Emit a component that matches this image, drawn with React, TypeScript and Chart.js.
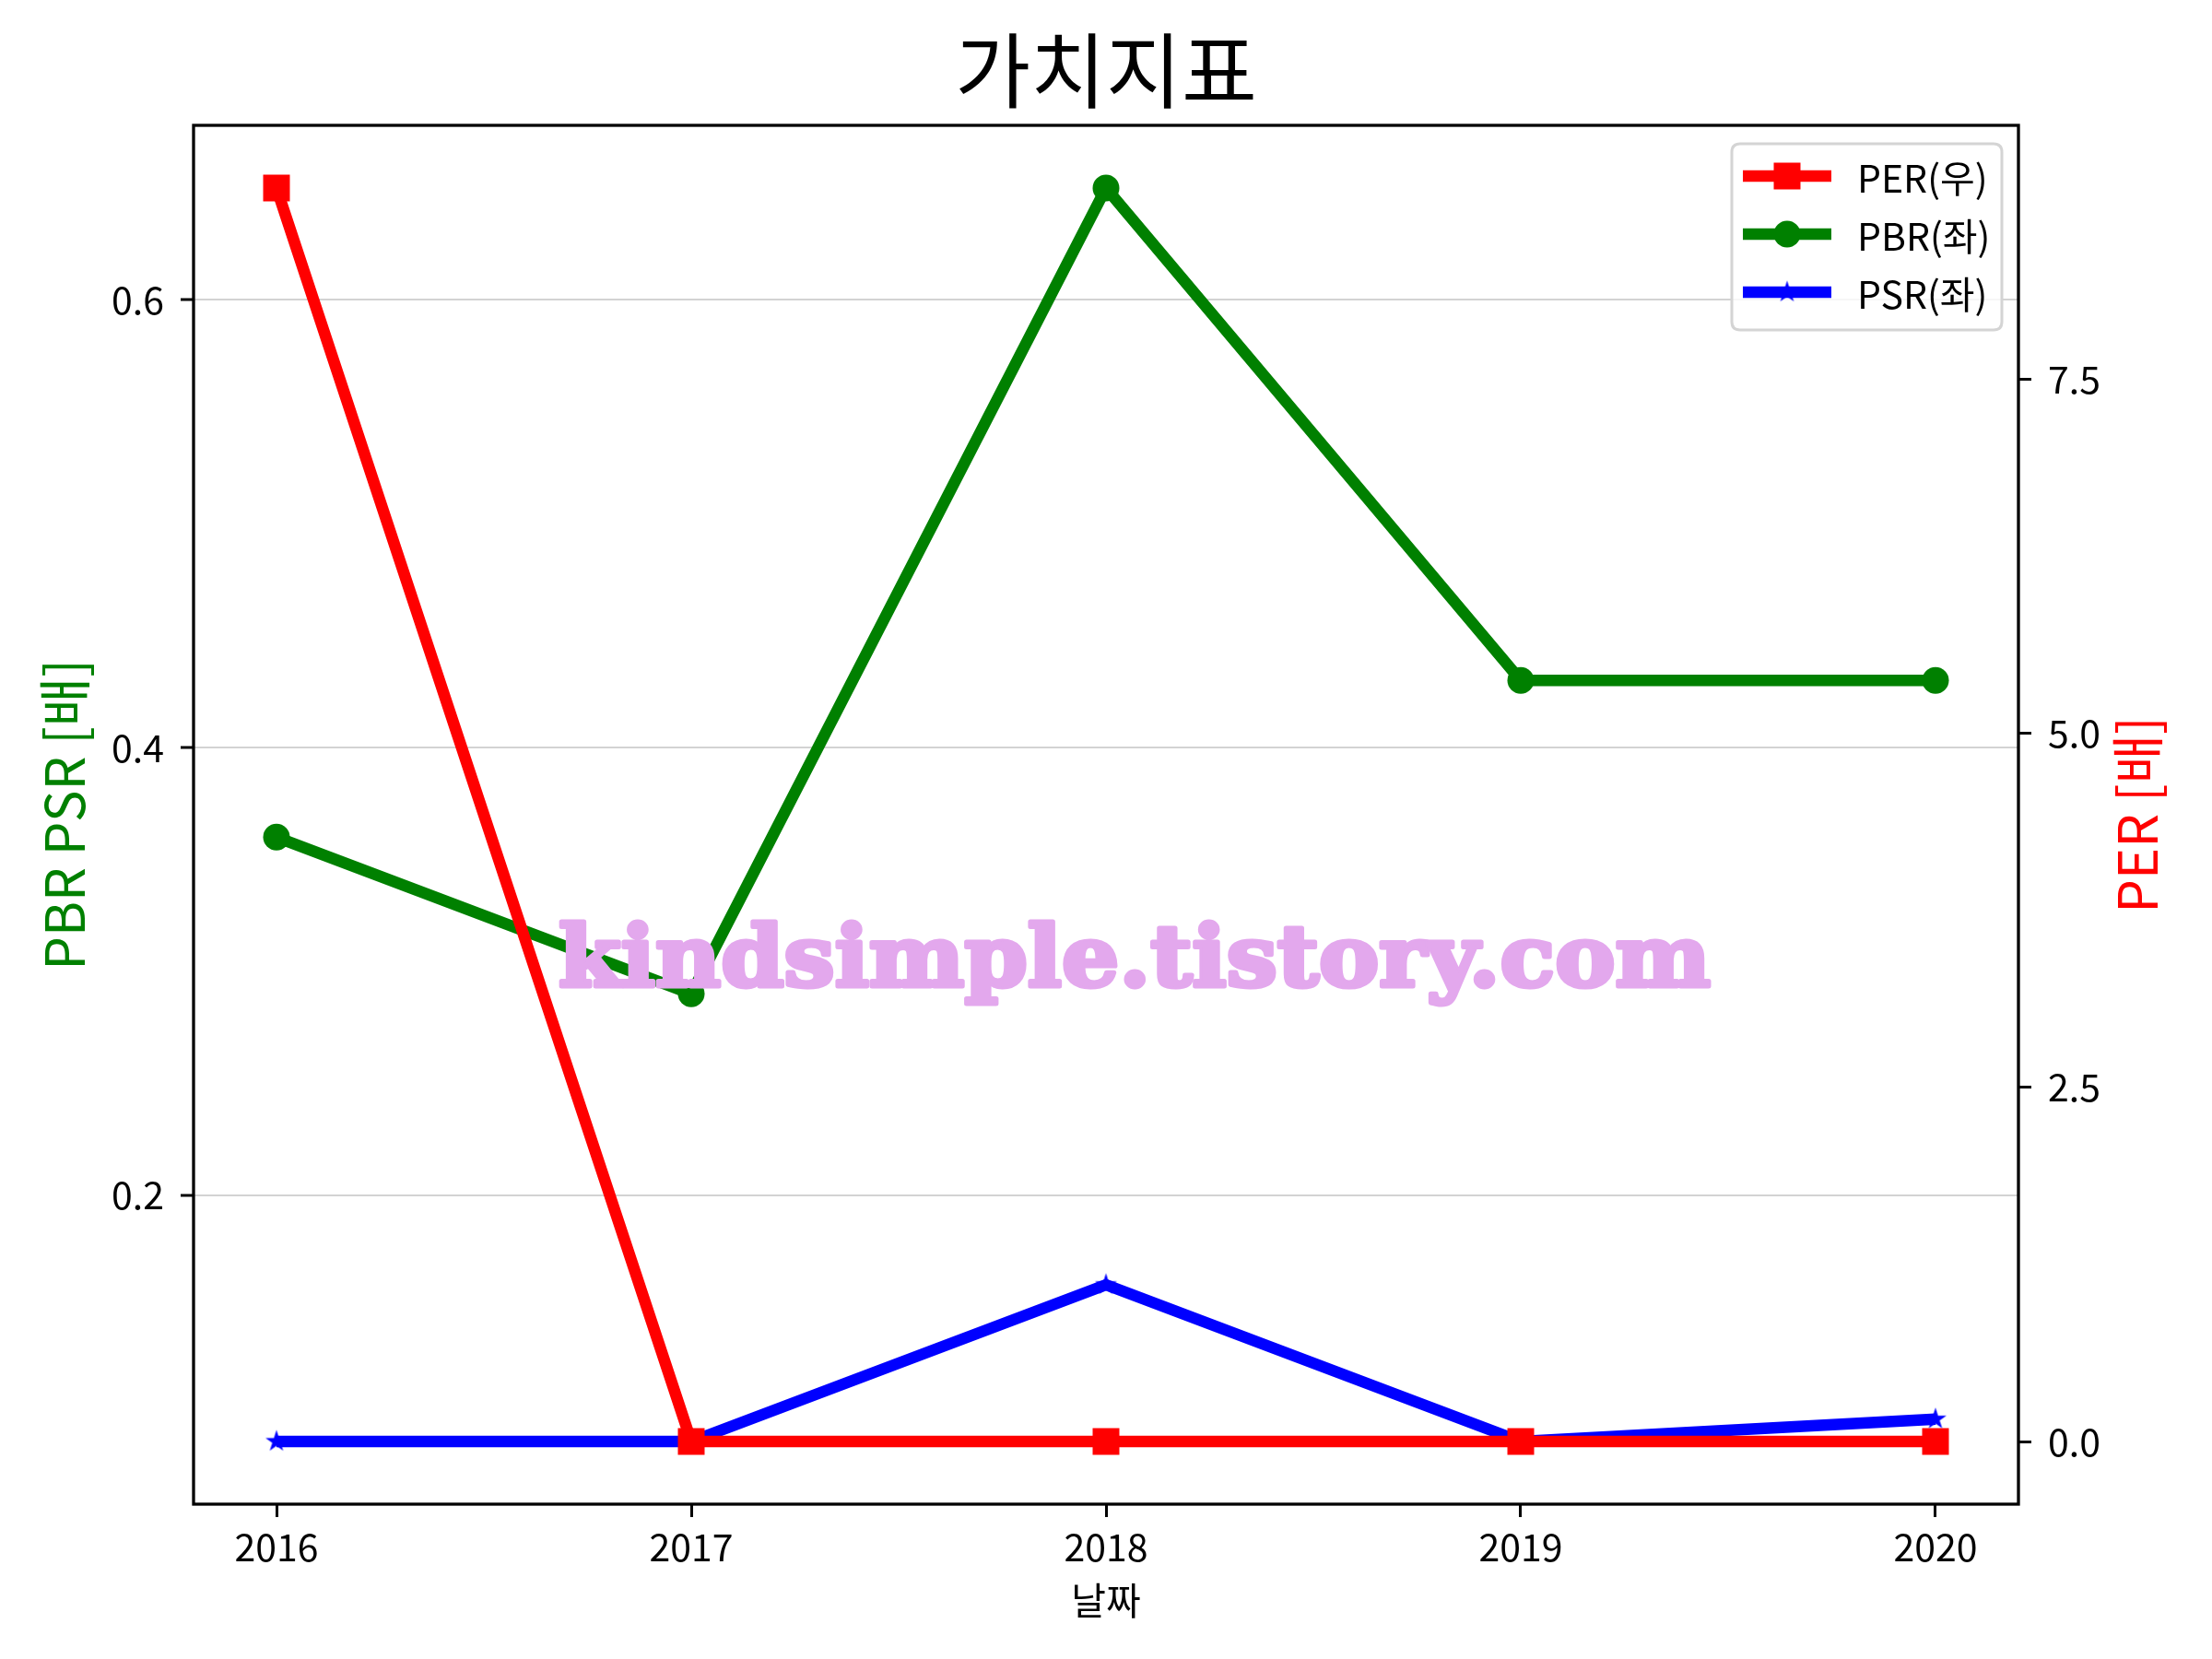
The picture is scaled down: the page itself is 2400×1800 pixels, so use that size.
import React, { useEffect, useRef } from 'react';
import { Chart, registerables } from 'chart.js';

Chart.register(...registerables);

const TITLE = '가치지표';
const X_LABEL = '날짜';
const LEFT_LABEL = 'PBR PSR [배]';
const RIGHT_LABEL = 'PER [배]';
const WATERMARK = 'kindsimple.tistory.com';

const YEARS = [2016, 2017, 2018, 2019, 2020];
const SERIES_LABELS = ['PER(우)', 'PBR(좌)', 'PSR(좌)'];
const PER = [8.85, 0, 0, 0, 0];
const PBR = [0.36, 0.29, 0.65, 0.43, 0.43];
const PSR = [0.09, 0.09, 0.16, 0.09, 0.1];
const LEFT_TICKS = [0.2, 0.4, 0.6];
const RIGHT_TICKS = [0, 2.5, 5, 7.5];

const FONT = "'Noto Sans CJK KR', 'Noto Sans', sans-serif";

function withMargin(values: number[]): [number, number] {
  const lo = Math.min(...values);
  const hi = Math.max(...values);
  const m = (hi - lo) * 0.05;
  return [lo - m, hi + m];
}

function makeStar(color: string, R: number): HTMLCanvasElement {
  const c = document.createElement('canvas');
  const s = Math.ceil(R * 2 + 4);
  c.width = s;
  c.height = s;
  const g = c.getContext('2d')!;
  g.fillStyle = color;
  g.beginPath();
  const cx = s / 2;
  const cy = s / 2;
  for (let i = 0; i < 10; i++) {
    const r = i % 2 === 0 ? R : R * 0.381966;
    const a = -Math.PI / 2 + (i * Math.PI) / 5;
    const px = cx + r * Math.cos(a);
    const py = cy + r * Math.sin(a);
    if (i === 0) g.moveTo(px, py);
    else g.lineTo(px, py);
  }
  g.closePath();
  g.fill();
  return c;
}

export default function App() {
  const ref = useRef<HTMLCanvasElement | null>(null);

  useEffect(() => {
    const canvas = ref.current;
    if (!canvas) return;
    const star = makeStar('#0000ff', 12.5);

    const [xMin, xMax] = withMargin(YEARS);
    const [lMin, lMax] = withMargin([...PBR, ...PSR]);
    const [rMin, rMax] = withMargin(PER);

    const toPts = (arr: number[]) => YEARS.map((y, i) => ({ x: y, y: arr[i] }));

    const overlay = {
      id: 'overlay',
      afterDatasetsDraw(chart: any) {
        const ctx = chart.ctx as CanvasRenderingContext2D;
        const a = chart.chartArea;
        // watermark
        ctx.save();
        ctx.font = `bold 92px 'DejaVu Serif', serif`;
        const w = ctx.measureText(WATERMARK).width;
        const target = 1250;
        ctx.translate(1231, 1070);
        ctx.scale(target / w, 1);
        ctx.fillStyle = 'rgb(227,168,237)';
        ctx.strokeStyle = 'rgb(227,168,237)';
        ctx.lineWidth = 5;
        ctx.lineJoin = 'round';
        ctx.textAlign = 'center';
        ctx.textBaseline = 'alphabetic';
        ctx.strokeText(WATERMARK, 0, 0);
        ctx.fillText(WATERMARK, 0, 0);
        ctx.restore();
        // frame
        ctx.save();
        ctx.strokeStyle = '#000';
        ctx.lineWidth = 3.3;
        ctx.strokeRect(a.left, a.top, a.right - a.left, a.bottom - a.top);
        ctx.restore();
      },
      afterDraw(chart: any) {
        const ctx = chart.ctx as CanvasRenderingContext2D;
        const a = chart.chartArea;
        const cy = (a.top + a.bottom) / 2;
        ctx.save();
        // title
        ctx.fillStyle = '#000';
        ctx.font = `89px ${FONT}`;
        ctx.textAlign = 'center';
        ctx.textBaseline = 'middle';
        ctx.fillText(TITLE, (a.left + a.right) / 2, 76);
        // x label
        ctx.font = `41px ${FONT}`;
        ctx.fillText(X_LABEL, (a.left + a.right) / 2, 1736);
        // left label
        ctx.save();
        ctx.translate(70, cy);
        ctx.rotate(-Math.PI / 2);
        ctx.fillStyle = '#008000';
        ctx.font = `58px ${FONT}`;
        ctx.fillText(LEFT_LABEL, 0, 0);
        ctx.restore();
        // right label
        ctx.save();
        ctx.translate(2319, cy);
        ctx.rotate(-Math.PI / 2);
        ctx.fillStyle = '#ff0000';
        ctx.font = `58px ${FONT}`;
        ctx.fillText(RIGHT_LABEL, 0, 0);
        ctx.restore();

        // legend
        const lx = 1879, ly = 156, lw = 293, lh = 202, rr = 9;
        ctx.beginPath();
        ctx.moveTo(lx + rr, ly);
        ctx.lineTo(lx + lw - rr, ly);
        ctx.quadraticCurveTo(lx + lw, ly, lx + lw, ly + rr);
        ctx.lineTo(lx + lw, ly + lh - rr);
        ctx.quadraticCurveTo(lx + lw, ly + lh, lx + lw - rr, ly + lh);
        ctx.lineTo(lx + rr, ly + lh);
        ctx.quadraticCurveTo(lx, ly + lh, lx, ly + lh - rr);
        ctx.lineTo(lx, ly + rr);
        ctx.quadraticCurveTo(lx, ly, lx + rr, ly);
        ctx.closePath();
        ctx.fillStyle = 'rgba(255,255,255,0.8)';
        ctx.fill();
        ctx.strokeStyle = '#d4d4d4';
        ctx.lineWidth = 3;
        ctx.stroke();

        const rows = [191, 254, 317];
        chart.data.datasets.forEach((ds: any, i: number) => {
          const y = rows[i];
          ctx.strokeStyle = ds.borderColor;
          ctx.lineWidth = 12.5;
          ctx.lineCap = 'butt';
          ctx.beginPath();
          ctx.moveTo(1891, y);
          ctx.lineTo(1987, y);
          ctx.stroke();
          const mx = 1939;
          ctx.fillStyle = ds.borderColor;
          if (ds.pointStyle === 'rect') {
            ctx.fillRect(mx - 14.5, y - 14.5, 29, 29);
          } else if (ds.pointStyle === 'circle') {
            ctx.beginPath();
            ctx.arc(mx, y, 14.5, 0, Math.PI * 2);
            ctx.fill();
          } else {
            ctx.drawImage(star, mx - star.width / 2, y - star.height / 2);
          }
          ctx.fillStyle = '#000';
          ctx.font = `41px ${FONT}`;
          ctx.textAlign = 'left';
          ctx.textBaseline = 'middle';
          ctx.fillText(ds.label, 2015, y + 2);
        });
        ctx.restore();
      },
    };

    const tickFont = { family: FONT, size: 41 };

    const chart = new Chart(canvas, {
      type: 'line',
      data: {
        datasets: [
          {
            label: SERIES_LABELS[0],
            data: toPts(PER),
            yAxisID: 'y1',
            borderColor: '#ff0000',
            backgroundColor: '#ff0000',
            borderWidth: 12.5,
            pointStyle: 'rect',
            pointRadius: 20.5,
            pointBorderWidth: 0,
            tension: 0,
            borderJoinStyle: 'round',
          },
          {
            label: SERIES_LABELS[1],
            data: toPts(PBR),
            yAxisID: 'y',
            borderColor: '#008000',
            backgroundColor: '#008000',
            borderWidth: 12.5,
            pointStyle: 'circle',
            pointRadius: 14.5,
            pointBorderWidth: 0,
            tension: 0,
            borderJoinStyle: 'round',
          },
          {
            label: SERIES_LABELS[2],
            data: toPts(PSR),
            yAxisID: 'y',
            borderColor: '#0000ff',
            backgroundColor: '#0000ff',
            borderWidth: 12.5,
            pointStyle: star as any,
            pointRadius: 12,
            pointBorderWidth: 0,
            tension: 0,
            borderJoinStyle: 'round',
          },
        ],
      } as any,
      options: {
        animation: false,
        responsive: false,
        maintainAspectRatio: false,
        devicePixelRatio: 1,
        layout: { padding: { top: 136, left: 0, right: 0, bottom: 0 } },
        plugins: {
          legend: { display: false },
          title: { display: false },
          tooltip: { enabled: false },
        },
        scales: {
          x: {
            type: 'linear',
            position: 'bottom',
            min: xMin,
            max: xMax,
            afterBuildTicks: (s: any) => {
              s.ticks = YEARS.map((v) => ({ value: v }));
            },
            afterFit: (s: any) => {
              s.height = 168;
            },
            ticks: {
              font: tickFont,
              color: '#000',
              padding: 8,
              maxRotation: 0,
              autoSkip: false,
              callback: (v: any) => String(v),
            },
            grid: {
              drawOnChartArea: false,
              tickLength: 14,
              tickColor: '#000',
              tickWidth: 3,
            },
            border: { display: false },
          },
          y: {
            type: 'linear',
            position: 'left',
            min: lMin,
            max: lMax,
            afterBuildTicks: (s: any) => {
              s.ticks = LEFT_TICKS.map((v) => ({ value: v }));
            },
            afterFit: (s: any) => {
              s.width = 210;
            },
            ticks: {
              font: tickFont,
              color: '#000',
              padding: 18,
              callback: (v: any) => Number(v).toFixed(1),
            },
            grid: {
              color: '#d3d3d3',
              lineWidth: 2,
              tickLength: 14,
              tickColor: '#000',
              tickWidth: 3,
            },
            border: { display: false },
          },
          y1: {
            type: 'linear',
            position: 'right',
            min: rMin,
            max: rMax,
            afterBuildTicks: (s: any) => {
              s.ticks = RIGHT_TICKS.map((v) => ({ value: v }));
            },
            afterFit: (s: any) => {
              s.width = 210;
            },
            ticks: {
              font: tickFont,
              color: '#000',
              padding: 18,
              callback: (v: any) => Number(v).toFixed(1),
            },
            grid: {
              drawOnChartArea: false,
              tickLength: 14,
              tickColor: '#000',
              tickWidth: 3,
            },
            border: { display: false },
          },
        },
      } as any,
      plugins: [overlay],
    });

    return () => {
      chart.destroy();
    };
  }, []);

  return (
    <div style={{ position: 'absolute', left: 0, top: 0, width: 2400, height: 1800, background: '#fff' }}>
      <canvas ref={ref} width={2400} height={1800} style={{ width: 2400, height: 1800, display: 'block' }} />
    </div>
  );
}
